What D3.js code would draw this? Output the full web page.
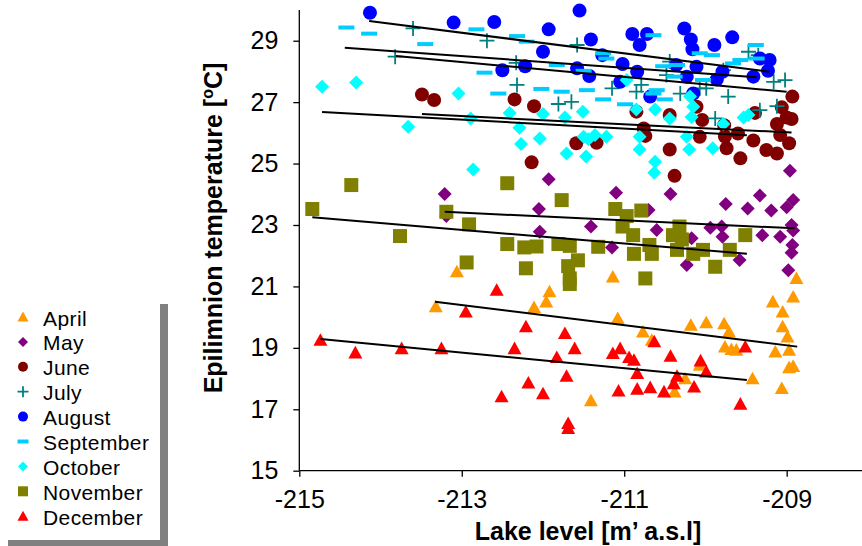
<!DOCTYPE html>
<html>
<head>
<meta charset="utf-8">
<script src="https://cdn.jsdelivr.net/npm/d3@7"></script>
<style>
  body { margin: 0; background: #fff; }
  svg { font-family: "Liberation Sans", Arial, sans-serif; }
</style>
</head>
<body>
<div id="chart"></div>
<script>
// months in legend order
var months = ["April", "May", "June", "July", "August", "September", "October", "November", "December"];
var colors = ["#FF9900", "#800080", "#800000", "#008080", "#0000FF", "#00CCFF", "#00FFFF", "#808000", "#FF0000"];
var shapes = ["triangle", "diamond", "circle", "plus", "circle", "dash", "diamond", "square", "triangle"];

var xTicks = [-215, -213, -211, -209];
var yTicks = [15, 17, 19, 21, 23, 25, 27, 29];

// [lake level, temperature]
var april = [[-213.06,21.48],[-213.32,20.34],[-212.11,20.32],[-211.96,20.50],[-211.92,20.83],[-211.14,21.31],[-211.08,19.96],[-210.77,19.52],[-210.66,19.25],[-210.18,19.74],[-209.99,19.82],[-209.77,19.79],[-209.71,19.52],[-209.76,19.03],[-209.68,18.95],[-209.62,18.93],[-209.42,18.00],[-211.41,17.28],[-210.38,17.57],[-210.25,18.00],[-209.17,20.50],[-208.92,20.66],[-208.88,21.26],[-209.05,20.17],[-209.05,19.69],[-208.99,19.36],[-209.14,18.87],[-208.97,18.93],[-208.97,18.36],[-208.92,18.40],[-209.06,17.68],[-210.07,18.44]];
var may = [[-213.21,24.01],[-213.19,23.29],[-212.05,23.52],[-212.04,22.78],[-211.93,24.49],[-211.10,24.05],[-210.43,24.01],[-209.75,23.68],[-209.48,23.54],[-209.19,23.47],[-209.33,23.96],[-209.00,23.58],[-208.92,23.81],[-208.96,24.77],[-211.41,22.95],[-210.60,22.84],[-211.15,22.27],[-210.17,22.57],[-209.94,22.91],[-209.80,22.95],[-209.79,22.62],[-209.30,22.67],[-209.08,22.62],[-208.94,23.00],[-208.92,22.82],[-208.93,22.35],[-208.94,22.10],[-209.58,21.86],[-210.23,21.70],[-208.98,21.53],[-210.70,23.49]];
var june = [[-213.49,27.25],[-213.34,27.07],[-212.35,27.09],[-212.11,26.87],[-210.85,26.69],[-210.44,26.58],[-210.11,26.85],[-210.04,26.42],[-209.77,26.25],[-209.39,26.65],[-209.06,26.83],[-208.93,27.18],[-209.00,26.50],[-209.12,26.29],[-208.94,26.45],[-209.60,25.98],[-210.07,25.87],[-210.76,26.14],[-211.59,25.66],[-211.34,25.68],[-210.74,25.90],[-210.44,25.46],[-209.76,25.88],[-209.74,25.50],[-209.57,25.17],[-209.41,25.75],[-209.25,25.44],[-209.12,25.33],[-209.08,25.93],[-208.97,25.66],[-210.38,24.60],[-212.14,25.04]];
var july = [[-213.60,29.40],[-212.69,29.00],[-213.82,28.48],[-212.33,28.28],[-212.32,27.56],[-211.58,28.86],[-211.81,26.94],[-211.65,27.01],[-211.15,27.45],[-210.85,27.34],[-210.79,27.56],[-210.48,27.88],[-210.44,28.32],[-210.31,27.28],[-210.07,27.45],[-209.99,27.45],[-209.78,28.04],[-209.72,27.18],[-209.47,28.64],[-209.35,28.53],[-209.16,27.66],[-209.02,27.72],[-209.33,26.74],[-209.12,26.87],[-209.88,26.47]];
var august = [[-214.13,29.91],[-213.10,29.59],[-212.60,29.61],[-211.93,29.37],[-212.00,28.64],[-212.50,28.04],[-212.22,28.17],[-211.55,29.98],[-211.41,29.04],[-210.90,29.22],[-210.72,29.22],[-210.81,28.86],[-210.26,29.40],[-210.18,29.04],[-210.16,28.72],[-209.89,28.86],[-209.67,29.11],[-211.27,28.53],[-211.02,28.24],[-211.58,28.10],[-211.43,27.85],[-210.84,27.99],[-211.05,27.66],[-210.36,28.21],[-210.11,28.15],[-210.23,27.83],[-209.86,27.74],[-209.79,27.99],[-209.33,28.42],[-209.21,28.37],[-209.23,28.02],[-209.41,27.83],[-210.15,27.28],[-210.68,27.18]];
var september = [[-214.42,29.43],[-214.14,29.23],[-213.45,28.89],[-212.82,29.37],[-212.72,27.96],[-212.32,29.15],[-212.20,28.97],[-212.55,27.28],[-212.02,27.43],[-211.77,27.34],[-211.46,27.39],[-211.26,27.09],[-210.99,26.93],[-210.64,29.18],[-210.64,27.28],[-210.50,27.09],[-211.22,28.42],[-211.26,28.59],[-211.50,28.02],[-211.83,28.21],[-210.52,28.17],[-210.35,28.21],[-210.07,28.59],[-209.92,28.53],[-210.03,27.72],[-209.66,28.26],[-209.57,28.37],[-209.38,28.86],[-209.37,28.42],[-210.38,27.83],[-210.60,27.39]];
var october = [[-214.72,27.50],[-214.30,27.64],[-213.04,27.28],[-213.66,26.20],[-212.89,26.47],[-212.41,26.65],[-212.29,26.17],[-212.00,26.61],[-212.04,25.82],[-212.27,25.64],[-212.86,24.81],[-211.73,26.50],[-211.51,26.69],[-210.97,27.72],[-210.85,26.76],[-210.62,26.76],[-210.44,26.47],[-210.19,27.18],[-210.15,26.85],[-210.17,26.52],[-209.53,26.50],[-209.47,26.58],[-209.78,26.29],[-211.36,25.93],[-211.50,25.87],[-211.22,25.87],[-210.81,25.87],[-210.23,25.87],[-211.44,25.79],[-211.71,25.33],[-211.47,25.23],[-210.81,25.46],[-210.62,25.06],[-210.63,24.70],[-210.20,25.46],[-209.91,25.50]];
var november = [[-214.84,23.52],[-214.36,24.30],[-213.76,22.64],[-213.19,23.43],[-212.91,23.02],[-212.94,21.78],[-212.44,24.36],[-212.44,22.38],[-212.23,22.27],[-212.08,22.30],[-212.21,21.59],[-211.77,23.81],[-211.11,23.52],[-210.97,23.29],[-210.79,23.47],[-211.02,22.95],[-210.89,22.67],[-211.81,22.38],[-211.67,22.32],[-211.32,22.29],[-211.57,21.85],[-211.69,21.66],[-211.67,21.26],[-211.67,21.08],[-210.88,22.06],[-210.66,22.06],[-210.69,22.35],[-210.32,22.95],[-210.40,22.67],[-210.29,22.53],[-210.35,22.19],[-210.15,22.06],[-210.03,22.19],[-209.70,22.19],[-209.51,22.67],[-209.88,21.64],[-210.74,21.26]];
var december = [[-214.74,19.25],[-214.31,18.84],[-213.74,18.98],[-213.25,18.98],[-212.95,20.17],[-212.57,20.88],[-212.21,19.69],[-212.35,18.98],[-212.18,17.86],[-212.51,17.41],[-212.00,17.51],[-211.73,19.47],[-211.61,18.98],[-211.83,18.69],[-211.71,18.08],[-211.69,16.54],[-211.69,16.38],[-211.14,18.82],[-211.05,18.98],[-210.94,18.69],[-210.88,18.60],[-210.84,18.17],[-210.63,19.20],[-210.43,18.73],[-210.35,18.08],[-210.39,17.84],[-211.07,17.60],[-210.84,17.66],[-210.68,17.71],[-210.51,17.57],[-210.14,17.73],[-210.06,18.58],[-209.99,18.22],[-209.51,19.03],[-209.57,17.17]];

// linear trend lines per month: start and end points
var trendX0 = [-213.33, -213.21, -213.49, -213.81, -214.14, -214.44, -214.72, -214.84, -214.74];
var trendY0 = [20.50, 23.43, 26.61, 28.50, 29.64, 28.77, 26.68, 23.25, 19.29];
var trendX1 = [-208.87, -208.90, -208.94, -209.00, -209.21, -209.37, -209.49, -209.49, -209.49];
var trendY1 = [19.04, 22.89, 26.01, 27.34, 27.99, 27.81, 25.92, 22.06, 17.95];

var series = [april, may, june, july, august, september, october, november, december];

var W = 862, H = 546;
var svg = d3.select("#chart").append("svg").attr("width", W).attr("height", H);

var x = d3.scaleLinear().domain([-215, -208]).range([299.3, 867.9]);
var y = d3.scaleLinear().domain([15, 30]).range([470.7, 10]);

function markerPath(shape, s) {
  // s = nominal size in px
  if (shape == "triangle") {
    var h = s * 0.9;
    return "M0," + (-h * 0.55) + "L" + (s / 2) + "," + (h * 0.45) + "L" + (-s / 2) + "," + (h * 0.45) + "Z";
  }
  if (shape == "diamond") {
    var d = s / 2;
    return "M0," + (-d) + "L" + d + ",0L0," + d + "L" + (-d) + ",0Z";
  }
  if (shape == "square") {
    var q = s / 2;
    return "M" + (-q) + "," + (-q) + "H" + q + "V" + q + "H" + (-q) + "Z";
  }
  if (shape == "circle") {
    return d3.symbol(d3.symbolCircle, Math.PI * (s / 2) * (s / 2))();
  }
  if (shape == "dash") {
    return "M" + (-s / 2) + ",-2H" + (s / 2) + "V2H" + (-s / 2) + "Z";
  }
  return "";
}

function drawMarker(g, shape, color, s) {
  if (shape == "plus") {
    g.append("path")
      .attr("d", "M" + (-s / 2) + ",0H" + (s / 2) + "M0," + (-s / 2) + "V" + (s / 2))
      .style("stroke", color)
      .style("stroke-width", 1.8)
      .style("fill", "none");
  } else {
    g.append("path")
      .attr("d", markerPath(shape, s))
      .style("fill", color);
  }
}

var plotSizes = { triangle: 14, diamond: 14, circle: 14, plus: 15, dash: 16, square: 14 };

// points
series.forEach(function (pts, i) {
  var grp = svg.append("g").attr("class", "series");
  pts.forEach(function (p) {
    var m = grp.append("g").attr("transform", "translate(" + x(p[0]) + "," + y(p[1]) + ")");
    drawMarker(m, shapes[i], colors[i], plotSizes[shapes[i]]);
  });
});

// trend lines
svg.append("g").selectAll("line")
  .data(months)
  .enter().append("line")
  .attr("x1", function (d, i) { return x(trendX0[i]); })
  .attr("y1", function (d, i) { return y(trendY0[i]); })
  .attr("x2", function (d, i) { return x(trendX1[i]); })
  .attr("y2", function (d, i) { return y(trendY1[i]); })
  .style("stroke", "#000")
  .style("stroke-width", 2);

// axes (plain hyphen for negatives, like the original)
var xAxis = svg.append("g")
  .attr("transform", "translate(0," + y(15) + ")")
  .call(d3.axisBottom(x).tickValues(xTicks).tickSize(6).tickPadding(14).tickFormat(function (d) { return String(d); }));
var yAxis = svg.append("g")
  .attr("transform", "translate(" + x(-215) + ",0)")
  .call(d3.axisLeft(y).tickValues(yTicks).tickSize(6).tickPadding(15).tickFormat(function (d) { return String(d); }));

[xAxis, yAxis].forEach(function (a) {
  a.select(".domain").style("stroke", "#000").style("stroke-width", 1.3);
  a.selectAll(".tick line").style("stroke", "#000").style("stroke-width", 1.3);
  a.selectAll(".tick text")
    .style("font-family", "'Liberation Sans', Arial, sans-serif")
    .style("font-size", "25px")
    .style("fill", "#000");
});
xAxis.select(".domain").attr("d", "M" + x(-215) + ",0H" + W);
yAxis.select(".domain").attr("d", "M0," + y(30) + "V" + y(15));

// axis titles
svg.append("text")
  .attr("x", 588)
  .attr("y", 540)
  .attr("text-anchor", "middle")
  .style("font-weight", "bold")
  .style("font-size", "25px")
  .text("Lake level [m\u2019 a.s.l]");

var yt = svg.append("text")
  .attr("transform", "translate(222,228)rotate(-90)")
  .attr("text-anchor", "middle")
  .style("font-weight", "bold")
  .style("font-size", "25px");
yt.append("tspan").text("Epilimnion temperature [");
yt.append("tspan").attr("dy", -9).style("font-size", "16px").text("o");
yt.append("tspan").attr("dy", 9).text("C]");

// legend with drop shadow
var legend = svg.append("g");
legend.append("rect").attr("x", 8).attr("y", 304).attr("width", 160).attr("height", 242).style("fill", "#808080");
legend.append("rect").attr("x", -2).attr("y", 296).attr("width", 162).attr("height", 244).style("fill", "#fff");

var legendSizes = { triangle: 11, diamond: 10, circle: 10, plus: 11, dash: 11, square: 10 };
months.forEach(function (m, i) {
  var cy = 318 + i * 24.9;
  var mg = legend.append("g").attr("transform", "translate(23," + (cy - 1) + ")");
  drawMarker(mg, shapes[i], colors[i], legendSizes[shapes[i]]);
  legend.append("text")
    .attr("x", 43)
    .attr("y", cy)
    .attr("dy", "0.36em")
    .style("font-size", "21px")
    .style("letter-spacing", "0.4px")
    .text(m);
});
</script>
</body>
</html>
